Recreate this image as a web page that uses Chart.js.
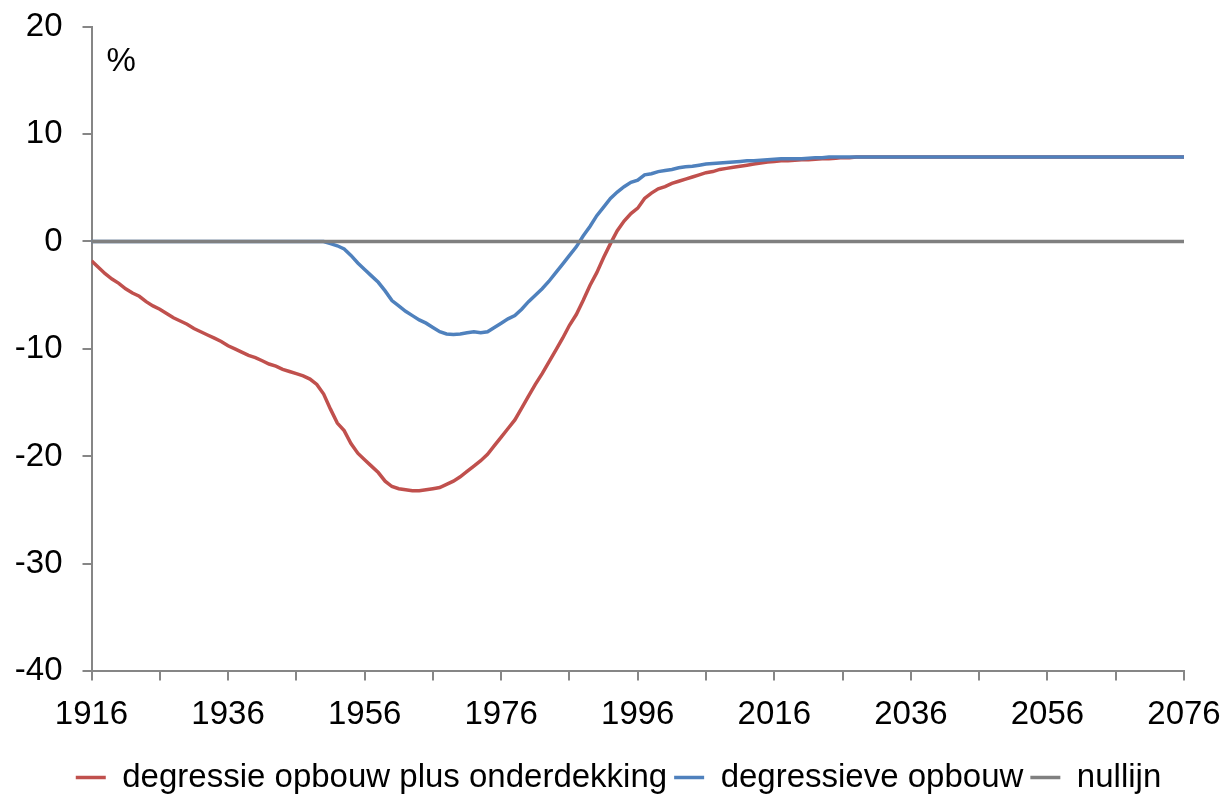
<!DOCTYPE html>
<html lang="nl">
<head>
<meta charset="UTF-8">
<title>Degressieve opbouw</title>
<script src="https://cdn.jsdelivr.net/npm/chart.js"></script>
<style>
  html, body { margin: 0; padding: 0; background: #fff; }
  canvas { display: block; }
</style>
</head>
<body>
<canvas id="chart" width="1229" height="798"></canvas>
<script>
// jaren (1916-2030 per jaar, daarna vlak tot 2076)
const years = [
  1916, 1917, 1918, 1919, 1920, 1921, 1922, 1923, 1924, 1925,
  1926, 1927, 1928, 1929, 1930, 1931, 1932, 1933, 1934, 1935,
  1936, 1937, 1938, 1939, 1940, 1941, 1942, 1943, 1944, 1945,
  1946, 1947, 1948, 1949, 1950, 1951, 1952, 1953, 1954, 1955,
  1956, 1957, 1958, 1959, 1960, 1961, 1962, 1963, 1964, 1965,
  1966, 1967, 1968, 1969, 1970, 1971, 1972, 1973, 1974, 1975,
  1976, 1977, 1978, 1979, 1980, 1981, 1982, 1983, 1984, 1985,
  1986, 1987, 1988, 1989, 1990, 1991, 1992, 1993, 1994, 1995,
  1996, 1997, 1998, 1999, 2000, 2001, 2002, 2003, 2004, 2005,
  2006, 2007, 2008, 2009, 2010, 2011, 2012, 2013, 2014, 2015,
  2016, 2017, 2018, 2019, 2020, 2021, 2022, 2023, 2024, 2025,
  2026, 2027, 2028, 2029, 2030,
  2076
];

const redValues = [
  -1.8, -2.4, -3.0, -3.5, -3.9, -4.4, -4.8, -5.1, -5.6, -6.0,
  -6.3, -6.7, -7.1, -7.4, -7.7, -8.1, -8.4, -8.7, -9.0, -9.3,
  -9.7, -10.0, -10.3, -10.6, -10.8, -11.1, -11.4, -11.6, -11.9, -12.1,
  -12.3, -12.5, -12.8, -13.3, -14.2, -15.6, -16.9, -17.6, -18.8, -19.7,
  -20.3, -20.9, -21.5, -22.3, -22.8, -23.0, -23.1, -23.2, -23.2, -23.1,
  -23.0, -22.9, -22.6, -22.3, -21.9, -21.4, -20.9, -20.4, -19.8, -19.0,
  -18.2, -17.4, -16.6, -15.5, -14.4, -13.3, -12.3, -11.2, -10.1, -9.0,
  -7.8, -6.8, -5.5, -4.1, -2.9, -1.5, -0.2, 1.0, 1.9, 2.6,
  3.1, 4.0, 4.5, 4.9, 5.1, 5.4, 5.6, 5.8, 6.0, 6.2,
  6.4, 6.5, 6.7, 6.8, 6.9, 7.0, 7.1, 7.2, 7.3, 7.4,
  7.45, 7.5, 7.5, 7.55, 7.6, 7.6, 7.65, 7.7, 7.7, 7.75,
  7.8, 7.8, 7.85, 7.85, 7.85,
  7.85
];

const blueValues = [
  0, 0, 0, 0, 0, 0, 0, 0, 0, 0,
  0, 0, 0, 0, 0, 0, 0, 0, 0, 0,
  0, 0, 0, 0, 0, 0, 0, 0, 0, 0,
  0, 0, 0, 0, 0, -0.2, -0.4, -0.7, -1.3, -2.0,
  -2.6, -3.2, -3.8, -4.6, -5.5, -6.0, -6.5, -6.9, -7.3, -7.6,
  -8.0, -8.4, -8.6, -8.65, -8.6, -8.5, -8.4, -8.5, -8.4, -8.0,
  -7.6, -7.2, -6.9, -6.3, -5.6, -5.0, -4.4, -3.7, -2.9, -2.1,
  -1.3, -0.5, 0.5, 1.4, 2.4, 3.2, 4.0, 4.6, 5.1, 5.5,
  5.7, 6.2, 6.3, 6.5, 6.6, 6.7, 6.85, 6.95, 7.0, 7.1,
  7.2, 7.25, 7.3, 7.35, 7.4, 7.45, 7.5, 7.5, 7.55, 7.6,
  7.65, 7.7, 7.7, 7.7, 7.7, 7.75, 7.8, 7.8, 7.85, 7.85,
  7.85, 7.85, 7.85, 7.85, 7.85,
  7.85
];

const nullYears = [1916, 2076];
const nullValues = [0, 0];

const seriesNames = ['degressie opbouw plus onderdekking', 'degressieve opbouw', 'nullijn'];
const seriesColors = ['#C0504D', '#4F81BD', '#808080'];

const xTickYears = [1916, 1926, 1936, 1946, 1956, 1966, 1976, 1986, 1996, 2006, 2016, 2026, 2036, 2046, 2056, 2066, 2076];
const xLabelYears = [1916, 1936, 1956, 1976, 1996, 2016, 2036, 2056, 2076];
const yTicks = [-40, -30, -20, -10, 0, 10, 20];

const axisGrey = '#868686';
const fontFamily = "'Liberation Sans', Arial, sans-serif";

function toPoints(xs, ys) {
  return xs.map((x, i) => ({ x: x, y: ys[i] }));
}

Chart.defaults.font.family = fontFamily;
Chart.defaults.font.size = 33;
Chart.defaults.color = '#000';

// het "%" teken linksboven in het plotvlak
const percentLabel = {
  id: 'percentLabel',
  afterDraw(chart) {
    const ctx = chart.ctx;
    ctx.save();
    ctx.font = '33px ' + fontFamily;
    ctx.fillStyle = '#000';
    ctx.textBaseline = 'alphabetic';
    ctx.fillText('%', chart.chartArea.left + 15, chart.chartArea.top + 44);
    ctx.restore();
  }
};

new Chart(document.getElementById('chart'), {
  type: 'line',
  data: {
    datasets: [
      {
        label: seriesNames[0],
        data: toPoints(years, redValues),
        borderColor: seriesColors[0],
        backgroundColor: seriesColors[0],
        borderWidth: 3.5,
        pointRadius: 0,
        order: 3
      },
      {
        label: seriesNames[1],
        data: toPoints(years, blueValues),
        borderColor: seriesColors[1],
        backgroundColor: seriesColors[1],
        borderWidth: 3.5,
        pointRadius: 0,
        order: 2
      },
      {
        label: seriesNames[2],
        data: toPoints(nullYears, nullValues),
        borderColor: seriesColors[2],
        backgroundColor: seriesColors[2],
        borderWidth: 3.5,
        pointRadius: 0,
        order: 1
      }
    ]
  },
  options: {
    responsive: false,
    animation: false,
    layout: { padding: { left: 8, top: 26.5, right: 0, bottom: -6 } },
    plugins: {
      tooltip: { enabled: false },
      legend: {
        position: 'bottom',
        reverse: true,
        labels: {
          usePointStyle: true,
          pointStyle: 'line',
          pointStyleWidth: 30,
          padding: 7,
          font: { size: 33 }
        }
      }
    },
    scales: {
      x: {
        type: 'linear',
        min: 1916,
        max: 2076,
        afterBuildTicks: (scale) => { scale.ticks = xTickYears.map(v => ({ value: v })); },
        afterFit: (scale) => {
          scale.height += 4;
          scale.paddingLeft = 0;
          scale.paddingRight = 0;
        },
        ticks: {
          autoSkip: false,
          maxRotation: 0,
          padding: 15,
          callback: (v) => xLabelYears.includes(v) ? String(v) : ''
        },
        grid: { drawOnChartArea: false, drawTicks: true, tickLength: 9, color: axisGrey, lineWidth: 2 },
        border: { color: axisGrey, width: 2 }
      },
      y: {
        min: -40,
        max: 20,
        afterBuildTicks: (scale) => { scale.ticks = yTicks.map(v => ({ value: v })); },
        afterFit: (scale) => {
          scale.width = 83.5;
          scale.paddingTop = 0;
          scale.paddingBottom = 0;
        },
        ticks: {
          padding: 20,
          callback: (v) => String(v)
        },
        grid: { drawOnChartArea: false, drawTicks: true, tickLength: 9, color: axisGrey, lineWidth: 2 },
        border: { color: axisGrey, width: 2 }
      },
      // lege rechteras, alleen voor ruimte rechts van het plotvlak
      yRight: {
        position: 'right',
        min: -40,
        max: 20,
        afterFit: (scale) => {
          scale.width = 45;
          scale.paddingTop = 0;
          scale.paddingBottom = 0;
        },
        ticks: { display: false },
        grid: { display: false, drawTicks: false },
        border: { display: false }
      }
    }
  },
  plugins: [percentLabel]
});
</script>
</body>
</html>
